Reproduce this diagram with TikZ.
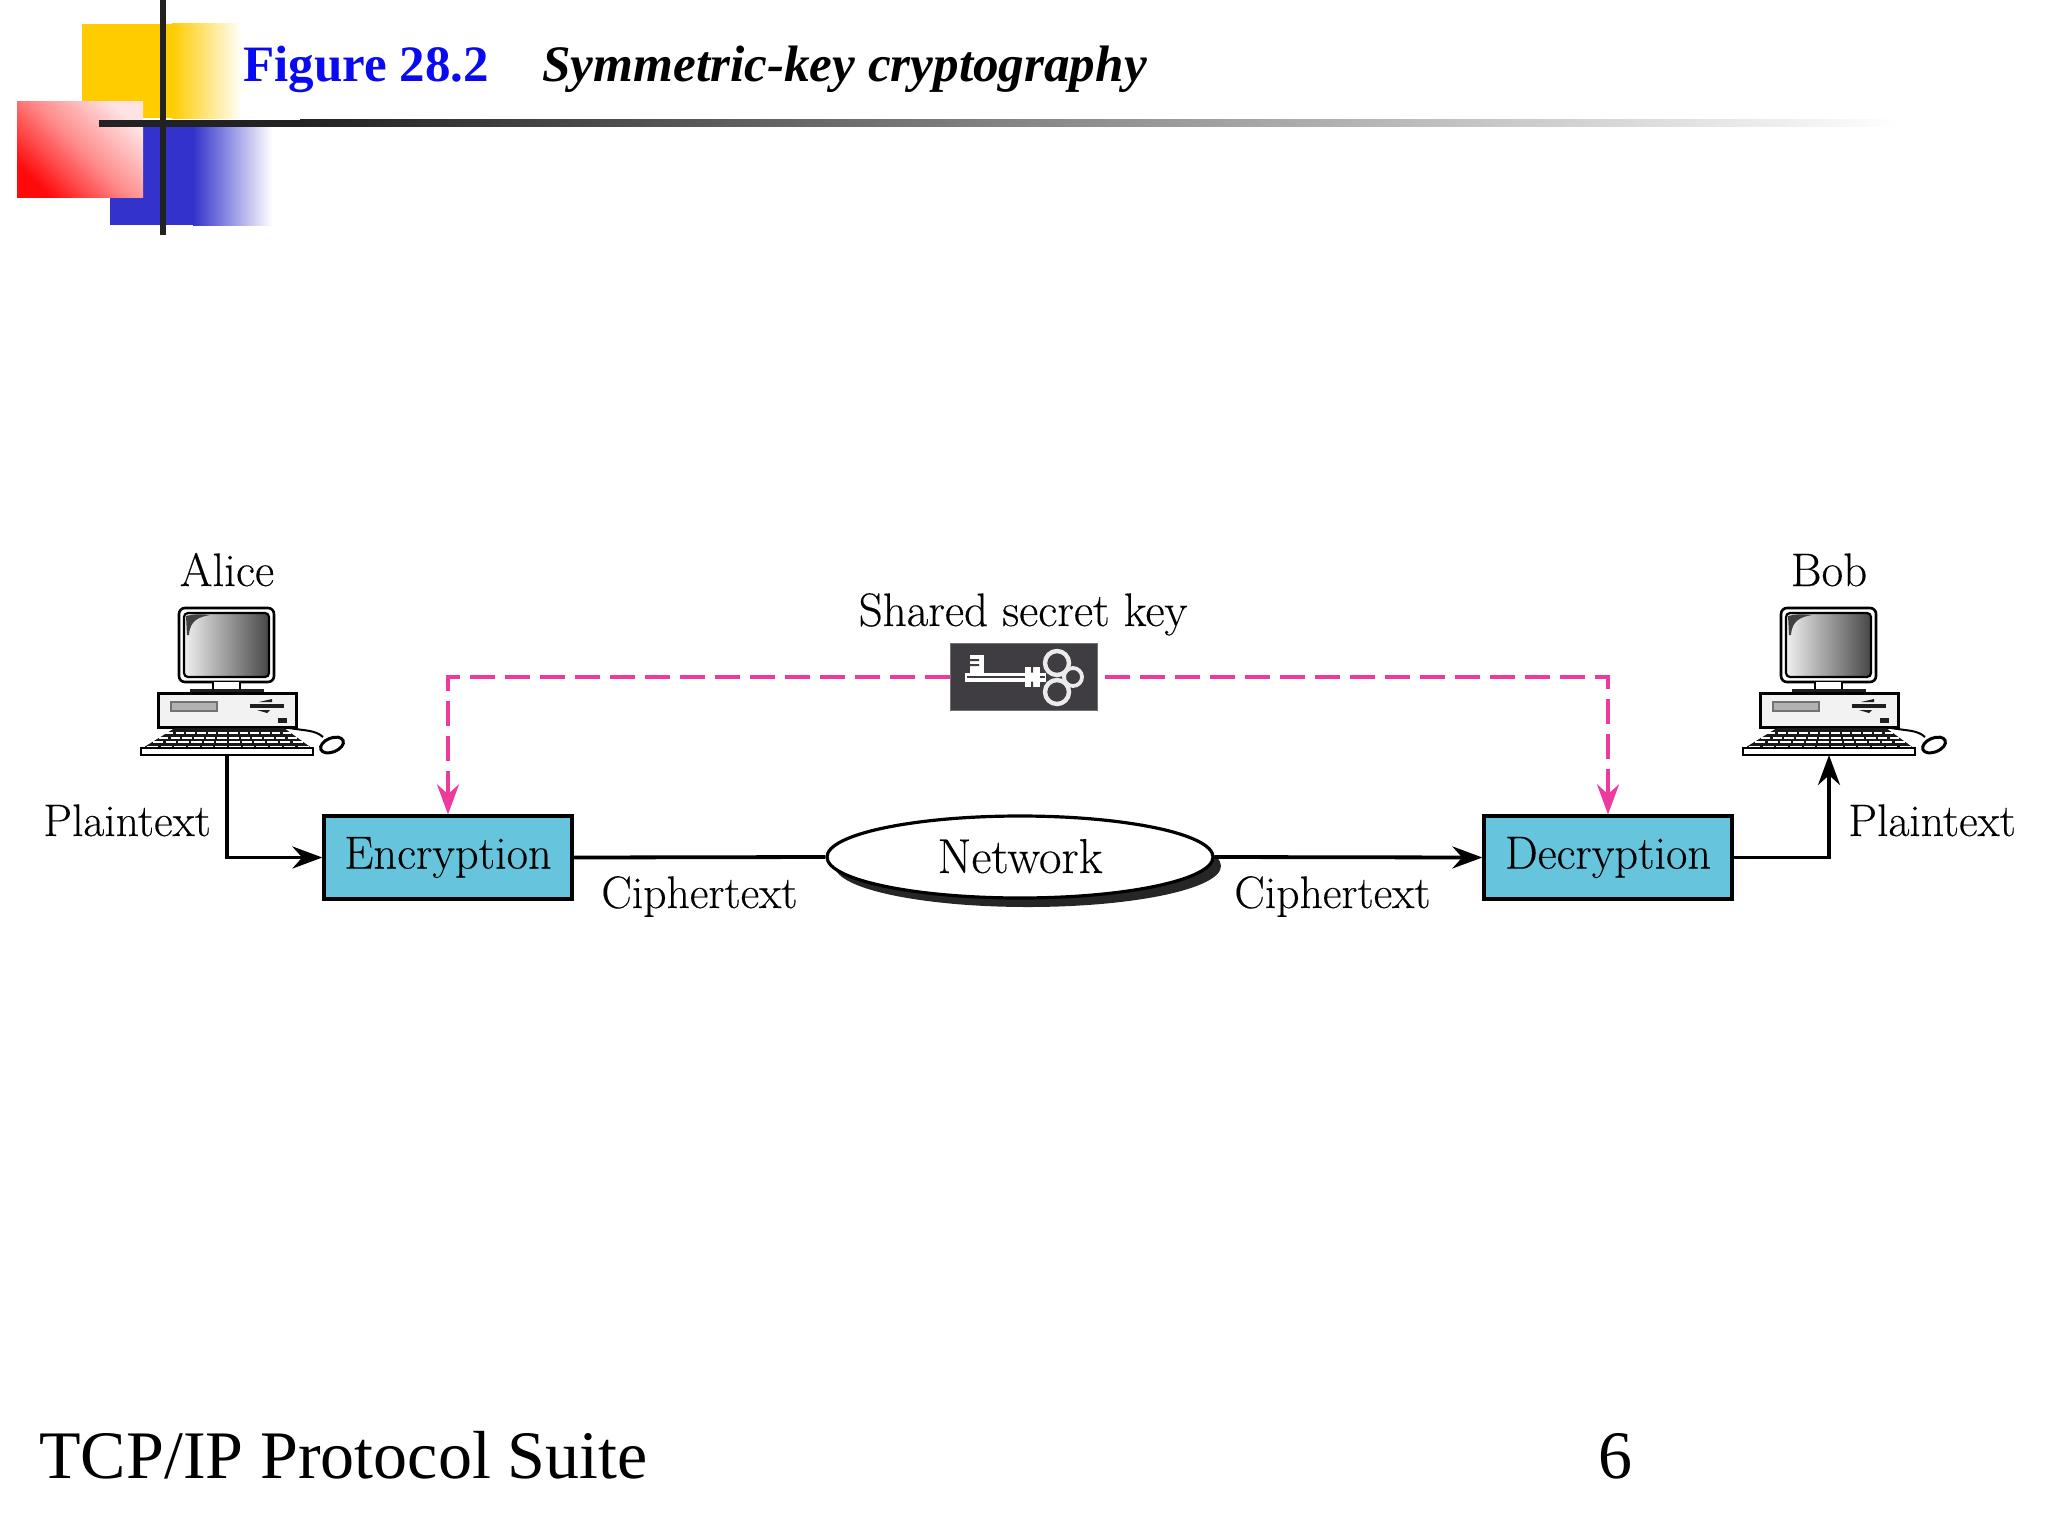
\documentclass[tikz,border=0pt]{standalone}
\usepackage{fontspec}
\newfontfamily\timesf{Liberation Serif}
\newfontfamily\labf[FakeBold=0.25]{Latin Modern Roman}
\usetikzlibrary{arrows.meta,shapes.geometric}
\definecolor{goldtone}{RGB}{255,204,0}
\definecolor{bluetone}{HTML}{3333CC}
\definecolor{redtone}{HTML}{FF0A0A}
\definecolor{crossc}{HTML}{222222}
\definecolor{boxc}{HTML}{66C4DC}
\definecolor{keyc}{HTML}{3F3D42}
\definecolor{magc}{HTML}{EE3A9C}
\definecolor{titleb}{HTML}{0A0AF0}
\tikzset{
  x=0.5pt,y=-0.5pt,
  flow/.style={line width=1.9pt,draw=black},
  tipflow/.style={flow,-{Stealth[length=15pt,width=11pt]}},
  keyflow/.style={line width=2pt,draw=magc,dash pattern=on 12.5pt off 5pt,-{Stealth[length=15pt,width=11pt,color=magc]}},
  block/.style={draw=black,line width=1.6pt,fill=boxc,minimum width=124pt,minimum height=41.5pt,inner sep=0pt},
  lab/.style={font=\labf\fontsize{22.8}{26}\selectfont,inner sep=0pt,anchor=base west},
  labc/.style={font=\labf\fontsize{23.5}{26}\selectfont,inner sep=0pt,anchor=base},
  pcframe/.style={minimum width=86pt,minimum height=74pt,inner sep=0pt},
  computer/.pic={
    % monitor
    \draw[line width=1.3pt,fill=white,rounded corners=3pt] (-48,-147) rectangle (47,-73);
    \shade[left color=black!6,right color=black!72,rounded corners=2pt,draw=black,line width=1.1pt] (-43,-142) rectangle (42,-78);
    \fill[black!75] (-41,-139) .. controls (-34,-141) and (-26,-141) .. (-17,-140)
       .. controls (-28,-138) and (-37,-135) .. (-38,-120) -- (-40,-120) -- cycle;
    % stand
    \fill[white] (-14,-73) rectangle (14,-64);
    \draw[line width=1pt] (-14,-73) -- (-14,-64) (13,-73) -- (13,-64);
    \fill[black!88] (-37,-66) rectangle (37,-60);
    % tower
    \draw[line width=1.5pt,fill=black!5] (-69,-62) rectangle (69,-28);
    \draw[line width=.8pt,draw=black!55,fill=black!30] (-56,-53) rectangle (-10,-44);
    \fill[black!88] (23,-51) rectangle (57,-47);
    \fill[black!88] (32,-53) -- (45,-56) -- (45,-53) -- cycle;
    \fill[black!88] (30,-45) -- (43,-45) -- (40,-42) -- cycle;
    \fill[black!88] (51,-37) rectangle (60,-32);
    % keyboard
    \fill[black!90] (-52,-27) -- (57,-27) -- (86,-6) -- (-86,-6) -- cycle;
    \foreach \r in {0,1,2,3}{
      \foreach \c in {-6.5,-5.5,...,6.5}{
        \pgfmathsetmacro{\yt}{-23+4.6*\r}
        \pgfmathsetmacro{\wd}{8.6+1.0*\r}
        \pgfmathsetmacro{\cx}{\c*(\wd+2.1)+1}
        \fill[white] (\cx-\wd/2,\yt) rectangle (\cx+\wd/2,\yt+2.2);
      }
    }
    \draw[line width=1.4pt,fill=white] (-86,-7) rectangle (86,0);
    % mouse
    \draw[line width=1pt] (62,-27) .. controls (80,-24) and (88,-25) .. (96,-18);
    \draw[line width=1.5pt,fill=white,rotate around={22:(105,-10)}] (105,-10) ellipse [x radius=12,y radius=7];
  }
}
\begin{document}
\begin{tikzpicture}
\useasboundingbox (0,0) rectangle (2048,1536);
% --- slide decoration
\path[fill=goldtone] (82,24) rectangle (172,118);
\shade[left color=goldtone,right color=white] (172,24) rectangle (242,118);
\path[fill=bluetone] (110,125) rectangle (193,225);
\shade[left color=bluetone,right color=white] (193,125) rectangle (272,225);
\shade[top color=white!88!redtone,bottom color=redtone,middle color=redtone!48!white,shading angle=-45] (17,102) rectangle (143,197);
\path[fill=crossc] (99,119.5) rectangle (300,126.5);
\shade[left color=crossc,right color=white] (300,119.5) rectangle (1900,126.5);
\path[fill=crossc] (159.5,0) rectangle (166,235);
% --- titles
\node[inner sep=0pt,anchor=base west,text=titleb,font=\timesf\bfseries\fontsize{25.5}{30}\selectfont] (figno) at (243,82) {Figure 28.2};
\node[inner sep=0pt,anchor=base west,text=black,font=\timesf\bfseries\itshape\fontsize{25.6}{30}\selectfont] (figtitle) at (542,82) {Symmetric-key cryptography};
\node[inner sep=0pt,anchor=base west,font=\timesf\fontsize{34}{40}\selectfont] (suite) at (39,1478) {TCP/IP Protocol Suite};
\node[inner sep=0pt,anchor=base west,font=\timesf\fontsize{34}{40}\selectfont] (pageno) at (1598,1478) {6};
% --- computers
\pic at (227,755) {computer};
\pic at (1829,755) {computer};
\node[pcframe,anchor=south] (alice) at (227,755) {};
\node[pcframe,anchor=south] (bob) at (1829,755) {};
\node[labc] (alicet) at (227,586) {Alice};
\node[labc] (bobt) at (1829,586) {Bob};
% --- blocks
\node[block] (enc) at (448,857.5) {\labf\fontsize{23.2}{26}\selectfont Encryption};
\node[block] (dec) at (1608,857.5) {\labf\fontsize{23.2}{26}\selectfont Decryption};
\path[fill=black!85] (1028,866) ellipse [x radius=193,y radius=41];
\node[ellipse,draw=black,line width=1.6pt,fill=white,minimum width=193pt,minimum height=41pt,inner sep=0pt] (net) at (1020,857) {};
\node[labc,font=\labf\fontsize{24.5}{26}\selectfont] (nett) at (1020,873) {Network};
% --- key
\node[draw=black!55,line width=.5pt,fill=keyc,minimum width=73.5pt,minimum height=33.5pt,inner sep=0pt] (key) at (1023.5,677) {};
\begin{scope}[draw=white!92!black]
  \path[fill=white] (965,672.5) rectangle (1046,681.5);
  \path[fill=keyc] (967,676.3) rectangle (1045,677.7);
  \path[fill=white] (970,655) rectangle (984,672.5);
  \path[fill=keyc] (970,659) rectangle (979,661) (970,664) rectangle (979,666);
  \path[fill=white] (1025,667) rectangle (1040,687);
  \path[fill=keyc] (1031,667) rectangle (1033,672.5) (1031,681.5) rectangle (1033,687);
  \draw[line width=1.9pt,fill=keyc] (1073,677) circle (9);
  \draw[line width=2.2pt,fill=keyc] (1057,663) circle (12);
  \draw[line width=2.2pt,fill=keyc] (1057,692) circle (12);
\end{scope}
\node[labc] (keyt) at (1023,626) {Shared secret key};
% --- labels
\node[lab] (pl) at (43,836) {Plaintext};
\node[lab] (pr) at (1848,836) {Plaintext};
\node[lab] (cl) at (601,908) {Ciphertext};
\node[lab] (cr) at (1234,908) {Ciphertext};
% --- connectors
\draw[tipflow] (alice.south) |- (enc.west);
\draw[flow] (enc.east) -- (net.west);
\draw[tipflow] (net.east) -- (dec.west);
\draw[tipflow] (dec.east) -| (bob.south);
\draw[keyflow] (key.west) -| (enc.north);
\draw[keyflow,dash phase=14pt] (key.east) -| (dec.north);
\end{tikzpicture}
\end{document}
